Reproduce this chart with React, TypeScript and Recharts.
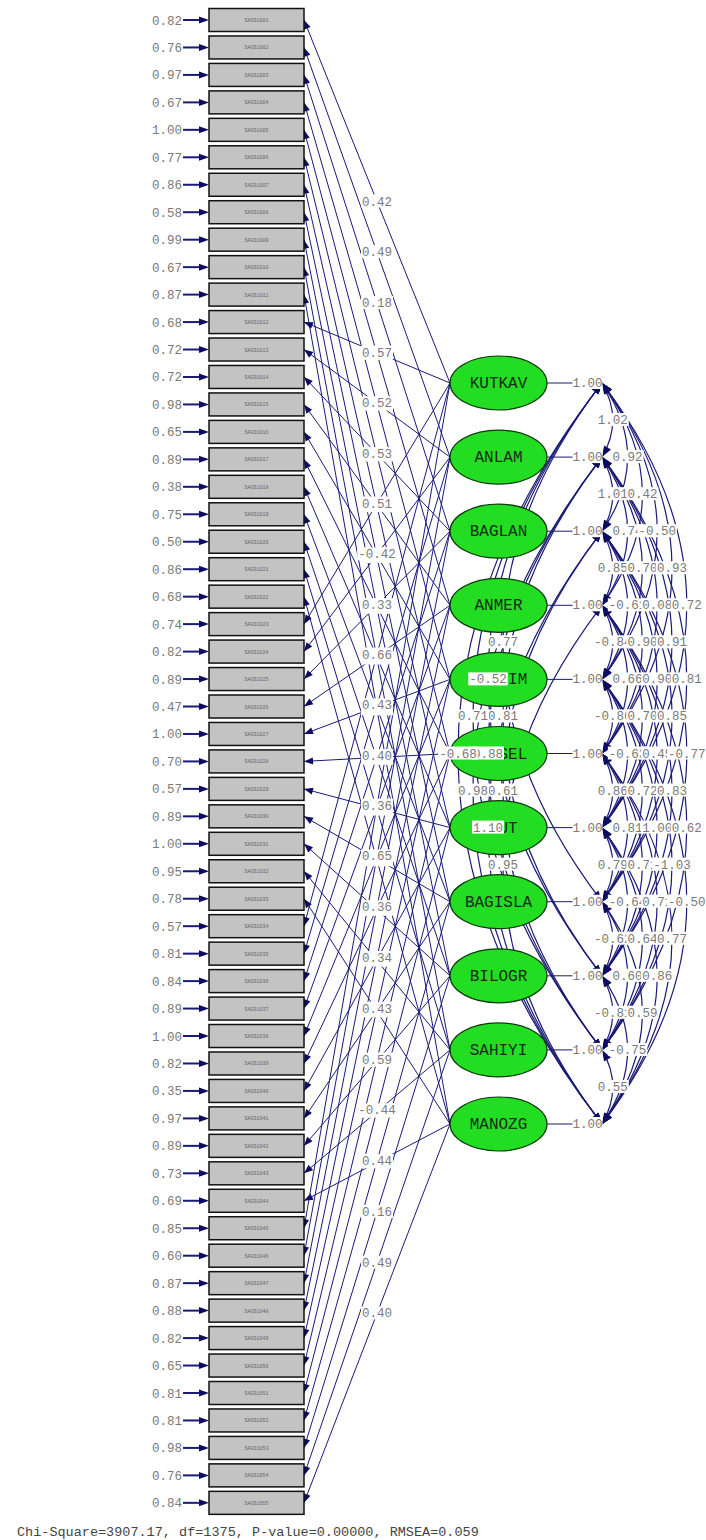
import React from 'react';
import { ComposedChart, XAxis, YAxis, Scatter, ReferenceLine, ReferenceDot } from 'recharts';

const W = 706;
const H = 1540;

// error variances of the 55 items, top to bottom
const ERROR_VAR = [0.82, 0.76, 0.97, 0.67, 1.0, 0.77, 0.86, 0.58, 0.99, 0.67, 0.87, 0.68, 0.72, 0.72, 0.98, 0.65, 0.89, 0.38, 0.75, 0.5, 0.86, 0.68, 0.74, 0.82, 0.89, 0.47, 1.0, 0.7, 0.57, 0.89, 1.0, 0.95, 0.78, 0.57, 0.81, 0.84, 0.89, 1.0, 0.82, 0.35, 0.97, 0.89, 0.73, 0.69, 0.85, 0.6, 0.87, 0.88, 0.82, 0.65, 0.81, 0.81, 0.98, 0.76, 0.84];

// standardized loadings, item i loads on latent i % 11
const LOADINGS = [0.42, 0.49, 0.18, 0.57, 0.05, 0.48, 0.37, 0.65, 0.1, 0.57, 0.36, 0.57, 0.52, 0.53, 0.14, 0.59, 0.33, 0.79, 0.5, 0.71, 0.37, 0.57, 0.51, -0.42, 0.33, 0.73, 0.06, 0.55, 0.66, 0.33, 0.03, 0.22, 0.47, 0.66, 0.43, 0.4, 0.33, 0.07, 0.42, 0.81, 0.17, 0.33, 0.52, 0.56, 0.36, 0.65, 0.36, 0.34, 0.43, 0.59, -0.44, 0.44, 0.16, 0.49, 0.4];

const LATENTS = ['KUTKAV', 'ANLAM', 'BAGLAN', 'ANMER', 'TESLIM', 'EVRSEL', 'UMUT', 'BAGISLA', 'BILOGR', 'SAHIYI', 'MANOZG'];
const LATENT_VAR = [1, 1, 1, 1, 1, 1, 1, 1, 1, 1, 1];

// latent correlations, grouped by distance between factors (j, j+lag)
const LAG1 = [1.02, 1.01, 0.85, -0.84, -0.86, 0.86, 0.79, -0.62, -0.81, 0.55];
const LAG2 = [0.92, 0.74, -0.61, 0.66, -0.63, 0.81, -0.64, 0.6, -0.75];
const LAG3 = [0.42, 0.7, 0.9, 0.7, 0.72, 0.71, 0.64, 0.59];
const LAG4 = [-0.5, 0.08, 0.9, 0.45, 1.0, 0.71, 0.86];
const LAG5 = [0.93, 0.91, 0.85, 0.83, -1.03, 0.77];
const LAG6 = [0.72, 0.81, -0.77, 0.62, -0.5];
const LAG7 = [0.77, 0.81, 0.61, 0.95];
const LAG8 = [-0.52, 0.88, 1.1];
const LAG9 = [0.71, 0.98];
const LAG10 = [-0.68];
const LAGS = [LAG1, LAG2, LAG3, LAG4, LAG5, LAG6, LAG7, LAG8, LAG9, LAG10];

const FIT_TEXT = 'Chi-Square=3907.17, df=1375, P-value=0.00000, RMSEA=0.059';

// layout (chart units == pixels)
const ROW0 = 20;
const ROW_STEP = 27.46;
const LAT0 = 383;
const LAT_STEP = 74.1;
const RECT_L = 209;
const RECT_R = 304;
const ELL_CX = 498.5;
const ELL_RX = 48.5;
const ELL_RY = 27;
const NODE_X = 602;

const NAVY = '#1a1a78';
const NAVY_DARK = '#0c0c62';
const LABEL_GRAY = '#7a7a7a';
const MONO = '"Liberation Mono", "DejaVu Sans Mono", monospace';

const itemY = (i: number) => ROW0 + ROW_STEP * i;
const latY = (j: number) => LAT0 + LAT_STEP * j;
const fmt = (v: number) => v.toFixed(2);

const items = ERROR_VAR.map((e, i) => ({
  x: (RECT_L + RECT_R) / 2,
  y: itemY(i),
  err: e,
  code: 'SAGS10' + String(i + 1).padStart(2, '0'),
}));

const latents = LATENTS.map((name, j) => ({ x: ELL_CX, y: latY(j), name, v: LATENT_VAR[j] }));

const loadingPaths = LOADINGS.map((l, i) => {
  const j = i % LATENTS.length;
  return { i, l, from: { x: RECT_R, y: itemY(i) }, to: { x: ELL_CX - ELL_RX, y: latY(j) } };
});

const apexX = (d: number) => (d <= 6 ? NODE_X - 4 + 14.8 * d : NODE_X - 99 - 15 * (d - 7));

const corrArcs = LAGS.flatMap((vals, li) =>
  vals.map((v, j) => {
    const d = li + 1;
    const k = j + d;
    return {
      key: `${j}-${k}`,
      v,
      a: { x: NODE_X, y: latY(j) },
      b: { x: NODE_X, y: latY(k) },
      apex: { x: apexX(d), y: (latY(j) + latY(k)) / 2 },
    };
  })
);

const arrowHead = (tx: number, ty: number, fx: number, fy: number, len: number, half: number, color: string) => {
  const dx = tx - fx;
  const dy = ty - fy;
  const m = Math.hypot(dx, dy) || 1;
  const ux = dx / m;
  const uy = dy / m;
  const bx = tx - ux * len;
  const by = ty - uy * len;
  return (
    <polygon
      points={`${tx},${ty} ${bx - uy * half},${by + ux * half} ${bx + uy * half},${by - ux * half}`}
      fill={color}
    />
  );
};

const LoadingLine = (p: any) => {
  const { x1, y1, x2, y2 } = p;
  return (
    <g>
      <line x1={x1} y1={y1} x2={x2} y2={y2} stroke={NAVY} strokeWidth={1} />
      {arrowHead(x1, y1, x2, y2, 9, 3.5, NAVY_DARK)}
    </g>
  );
};

const ArcHalf = (p: any) => {
  const { x1, y1, x2, y2 } = p;
  const cy = (y1 + y2) / 2;
  return (
    <g>
      <path d={`M${x1},${y1} Q${x2},${cy} ${x2},${y2}`} fill="none" stroke={NAVY} strokeWidth={1.2} />
      {arrowHead(x1, y1, x2, cy, 11, 4, NAVY_DARK)}
    </g>
  );
};

const valueLabel = (text: string) => (p: any) => {
  const { cx, cy } = p;
  const w = text.length * 7.5 + 2;
  return (
    <g>
      <rect x={cx - w / 2} y={cy - 7} width={w} height={13} fill="#fff" />
      <text x={cx} y={cy + 4} textAnchor="middle" fontFamily={MONO} fontSize={12.5} fill={LABEL_GRAY}>
        {text}
      </text>
    </g>
  );
};

const ItemBox = (p: any) => {
  const { cx, cy, payload } = p;
  const left = cx - (RECT_R - RECT_L) / 2;
  return (
    <g>
      <text x={left - 27} y={cy + 4.5} textAnchor="end" fontFamily={MONO} fontSize={12.5} fill={LABEL_GRAY}>
        {fmt(payload.err)}
      </text>
      <line x1={left - 26} y1={cy} x2={left - 6} y2={cy} stroke={NAVY} strokeWidth={2} />
      {arrowHead(left, cy, left - 20, cy, 10, 3.5, NAVY_DARK)}
      <rect x={left} y={cy - 11.5} width={RECT_R - RECT_L} height={23} fill="#c3c3c3" stroke="#111" strokeWidth={1.5} />
      <text x={cx} y={cy + 2} textAnchor="middle" fontFamily={MONO} fontSize={5} fill="#666">
        {payload.code}
      </text>
    </g>
  );
};

const LatentNode = (p: any) => {
  const { cx, cy, payload } = p;
  return (
    <g>
      <line x1={cx + ELL_RX} y1={cy} x2={NODE_X} y2={cy} stroke={NAVY} strokeWidth={1} />
      <ellipse cx={cx} cy={cy} rx={ELL_RX} ry={ELL_RY} fill="#22dd22" stroke="#0a3a0a" strokeWidth={1.2} />
      <text x={cx} y={cy + 5} textAnchor="middle" fontFamily={MONO} fontSize={16} fill="#1a2a1a">
        {payload.name}
      </text>
      <rect x={cx + 74} y={cy - 7} width={30} height={13} fill="#fff" />
      <text x={cx + 89} y={cy + 4} textAnchor="middle" fontFamily={MONO} fontSize={12.5} fill={LABEL_GRAY}>
        {fmt(payload.v)}
      </text>
    </g>
  );
};

export default function App() {
  return (
    <div style={{ position: 'absolute', left: 0, top: 0, width: W, height: H, background: '#fff' }}>
      <ComposedChart width={W} height={H} margin={{ top: 0, right: 0, bottom: 0, left: 0 }}>
        <XAxis type="number" dataKey="x" domain={[0, W]} hide allowDataOverflow />
        <YAxis type="number" dataKey="y" domain={[0, H]} reversed hide allowDataOverflow />
        <Scatter data={items} shape={ItemBox} isAnimationActive={false} />
        <Scatter data={latents} shape={LatentNode} isAnimationActive={false} />
        {loadingPaths.map((lp) => (
          <ReferenceLine key={`ld-${lp.i}`} segment={[lp.from, lp.to]} shape={LoadingLine} ifOverflow="visible" />
        ))}
        {corrArcs.map((c) => (
          <ReferenceLine key={`a1-${c.key}`} segment={[c.a, c.apex]} shape={ArcHalf} ifOverflow="visible" />
        ))}
        {corrArcs.map((c) => (
          <ReferenceLine key={`a2-${c.key}`} segment={[c.b, c.apex]} shape={ArcHalf} ifOverflow="visible" />
        ))}
        {loadingPaths.map((lp) => (
          <ReferenceDot
            key={`ll-${lp.i}`}
            x={(lp.from.x + lp.to.x) / 2}
            y={(lp.from.y + lp.to.y) / 2}
            shape={valueLabel(fmt(lp.l))}
            ifOverflow="visible"
          />
        ))}
        {corrArcs.map((c) => (
          <ReferenceDot key={`cl-${c.key}`} x={c.apex.x} y={c.apex.y} shape={valueLabel(fmt(c.v))} ifOverflow="visible" />
        ))}
      </ComposedChart>
      <div
        style={{
          position: 'absolute',
          left: 17,
          top: 1525,
          fontFamily: MONO,
          fontSize: 13.5,
          lineHeight: '16px',
          color: '#444',
          whiteSpace: 'nowrap',
        }}
      >
        {FIT_TEXT}
      </div>
    </div>
  );
}
